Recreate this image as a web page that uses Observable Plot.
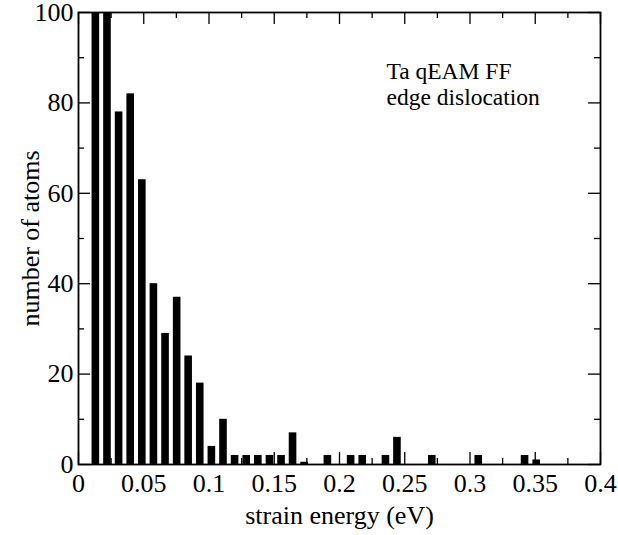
<!DOCTYPE html>
<html>
<head>
<meta charset="utf-8">
<script src="https://cdn.jsdelivr.net/npm/d3@7"></script>
<script src="https://cdn.jsdelivr.net/npm/@observablehq/plot@0.6"></script>
<style>
  html, body { margin: 0; padding: 0; background: #fff; }
</style>
</head>
<body>
<div id="chart"></div>
<script>
// Histogram bin centres (strain energy, eV) and counts
const energy = [0.0133, 0.0222, 0.0311, 0.0400, 0.0489, 0.0578, 0.0667, 0.0756, 0.0844, 0.0933,
                0.1022, 0.1111, 0.1200, 0.1289, 0.1378, 0.1467, 0.1556, 0.1644, 0.1733, 0.1911,
                0.2089, 0.2178, 0.2356, 0.2444, 0.2711, 0.3067, 0.3422, 0.3511];
const atoms  = [100, 100, 78, 82, 63, 40, 29, 37, 24, 18,
                4, 10, 2, 2, 2, 2, 2, 7, 0.5, 2,
                2, 2, 2, 6, 2, 2, 2, 1];
const binWidth = 0.4 / 45;

const xMajor = [0, 0.05, 0.1, 0.15, 0.2, 0.25, 0.3, 0.35, 0.4];
const xMinor = [0.025, 0.075, 0.125, 0.175, 0.225, 0.275, 0.325, 0.375];
const yMajor = [0, 20, 40, 60, 80, 100];
const yMinor = [10, 30, 50, 70, 90];

const annotation = ["Ta qEAM FF", "edge dislocation"];
const xTitle = "strain energy (eV)";
const yTitle = "number of atoms";

const bars = energy.map((e, i) => ({x1: e - binWidth / 2, x2: e + binWidth / 2, n: atoms[i]}));

const W = 618, H = 535, mL = 78, mR = 18, mT = 12, mB = 71;
const plotH = H - mT - mB;
const plotW = W - mL - mR;
const major = 12, minor = 6;

const chart = Plot.plot({
  width: W,
  height: H,
  marginLeft: mL,
  marginRight: mR,
  marginTop: mT,
  marginBottom: mB,
  style: {fontFamily: "Liberation Serif", background: "#fff", color: "#000", overflow: "visible"},
  x: {domain: [0, 0.4]},
  y: {domain: [0, 100]},
  marks: [
    Plot.rectY(bars, {x1: "x1", x2: "x2", y: "n", fill: "#000", insetLeft: 2, insetRight: 2, clip: true}),
    // inward ticks: bottom & top
    Plot.ruleX(xMajor, {x: d => d, insetTop: plotH - major, stroke: "#000", strokeWidth: 1.3}),
    Plot.ruleX(xMajor, {x: d => d, insetBottom: plotH - major, stroke: "#000", strokeWidth: 1.3}),
    Plot.ruleX(xMinor, {x: d => d, insetTop: plotH - minor, stroke: "#000", strokeWidth: 1.3}),
    Plot.ruleX(xMinor, {x: d => d, insetBottom: plotH - minor, stroke: "#000", strokeWidth: 1.3}),
    // inward ticks: left & right
    Plot.ruleY(yMajor, {y: d => d, insetRight: plotW - major, stroke: "#000", strokeWidth: 1.3}),
    Plot.ruleY(yMajor, {y: d => d, insetLeft: plotW - major, stroke: "#000", strokeWidth: 1.3}),
    Plot.ruleY(yMinor, {y: d => d, insetRight: plotW - minor, stroke: "#000", strokeWidth: 1.3}),
    Plot.ruleY(yMinor, {y: d => d, insetLeft: plotW - minor, stroke: "#000", strokeWidth: 1.3}),
    Plot.frame({stroke: "#000", strokeWidth: 1.8}),
    Plot.axisX({ticks: xMajor, tickSize: 0, tickPadding: 9, fontSize: 26, label: null,
                tickFormat: d => String(+d.toFixed(3))}),
    Plot.axisY({ticks: yMajor, tickSize: 0, tickPadding: 5, fontSize: 26, label: null}),
    Plot.text([xTitle], {frameAnchor: "bottom", dy: 59, fontSize: 26, fill: "#000"}),
    Plot.text([yTitle], {frameAnchor: "left", dx: -48, rotate: -90, textAnchor: "middle", lineAnchor: "middle", fontSize: 26, fill: "#000"}),
    Plot.text([annotation[0]], {frameAnchor: "top-left", dx: 308, dy: 59, textAnchor: "start", lineAnchor: "middle", fontSize: 23.5, fill: "#000"}),
    Plot.text([annotation[1]], {frameAnchor: "top-left", dx: 308, dy: 85, textAnchor: "start", lineAnchor: "middle", fontSize: 23.5, fill: "#000"})
  ]
});
document.getElementById("chart").appendChild(chart);
</script>
</body>
</html>
